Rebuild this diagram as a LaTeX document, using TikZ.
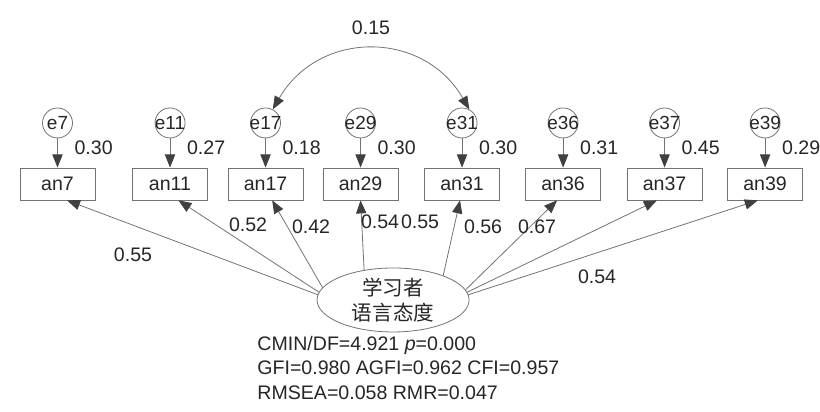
\documentclass[tikz,border=0pt]{standalone}
\usepackage{fontspec}
\setmainfont{Liberation Sans}
\newfontfamily\cjk{Noto Sans CJK SC}
\usepackage{tikz}
\usetikzlibrary{arrows.meta,shapes.geometric}
\newcommand{\eName}[1]{\makebox[0pt]{#1}}

\begin{document}
\begin{tikzpicture}[>={Triangle[length=2.3mm,width=1.8mm,color=black!75]},line cap=round,
  font=\fontsize{9.8}{12.5}\selectfont,
  obs/.style={draw=black!55,minimum width=1.32cm,minimum height=0.563cm,inner sep=0pt,text=black!85},
  err/.style={circle,draw=black!55,minimum size=0.528cm,inner sep=0pt,font=\fontsize{9.5}{10}\selectfont,text=black!85},
  lat/.style={ellipse,draw=black!55,minimum width=2.675cm,minimum height=1.126cm,inner sep=0pt,align=center,font=\cjk\fontsize{10.3}{12.5}\selectfont,text=black!85},
  coef/.style={text=black!85},
  link/.style={draw=black!55,->}]
\useasboundingbox (0,0) rectangle (14.43,7.25);
\node[obs] (an7) at (1.012,4.013) {an7};
\node[obs] (an11) at (2.992,4.013) {an11};
\node[obs] (an17) at (4.673,4.013) {an17};
\node[obs] (an29) at (6.345,4.013) {an29};
\node[obs] (an31) at (8.131,4.013) {an31};
\node[obs] (an36) at (9.909,4.013) {an36};
\node[obs] (an37) at (11.695,4.013) {an37};
\node[obs] (an39) at (13.464,4.013) {an39};
\node[err] (e7) at (1.012,5.086) {\eName{e7}};
\node[err] (e11) at (2.992,5.086) {\eName{e11}};
\node[err] (e17) at (4.673,5.086) {\eName{e17}};
\node[err] (e29) at (6.345,5.086) {\eName{e29}};
\node[err] (e31) at (8.131,5.086) {\eName{e31}};
\node[err] (e36) at (9.909,5.086) {\eName{e36}};
\node[err] (e37) at (11.695,5.086) {\eName{e37}};
\node[err] (e39) at (13.464,5.086) {\eName{e39}};
\draw[link] (e7) -- (an7) node[pos=0.33,right=5pt,coef]{0.30};
\draw[link] (e11) -- (an11) node[pos=0.33,right=5pt,coef]{0.27};
\draw[link] (e17) -- (an17) node[pos=0.33,right=5pt,coef]{0.18};
\draw[link] (e29) -- (an29) node[pos=0.33,right=5pt,coef]{0.30};
\draw[link] (e31) -- (an31) node[pos=0.33,right=5pt,coef]{0.30};
\draw[link] (e36) -- (an36) node[pos=0.33,right=5pt,coef]{0.31};
\draw[link] (e37) -- (an37) node[pos=0.33,right=5pt,coef]{0.45};
\draw[link] (e39) -- (an39) node[pos=0.33,right=5pt,coef]{0.29};
\draw[link,<->] (e17.62) to[out=60,in=120,looseness=1.2] node[midway,above=4pt,coef]{0.15} (e31.62);
\node[lat] (lv) at (6.917,1.971) {学习者\\语言态度};
\draw[link] (lv.176) -- (an7.-60);
\draw[link] (lv.174) -- (an11.-63);
\draw[link] (lv.170) -- (an17.-68);
\draw[link] (lv.134) -- (an29.-90);
\draw[link] (lv.26) -- (an31.-97);
\draw[link] (lv.8) -- (an36.-110);
\draw[link] (lv.6) -- (an37.-115);
\draw[link] (lv.4) -- (an39.-114);
\node[coef] (c7) at (2.341,2.763) {0.55};
\node[coef] (c11) at (4.365,3.291) {0.52};
\node[coef] (c17) at (5.474,3.256) {0.42};
\node[coef] (c29) at (6.688,3.344) {0.54};
\node[coef] (c31) at (7.392,3.344) {0.55};
\node[coef] (c36) at (8.501,3.256) {0.56};
\node[coef] (c37) at (9.451,3.256) {0.67};
\node[coef] (c39) at (10.507,2.376) {0.54};
\node[coef,anchor=west,inner sep=0pt,align=left] (fit) at (4.523,0.774) {CMIN/DF=4.921 \textit{p}=0.000\\GFI=0.980 AGFI=0.962 CFI=0.957\\RMSEA=0.058 RMR=0.047};
\end{tikzpicture}
\end{document}
